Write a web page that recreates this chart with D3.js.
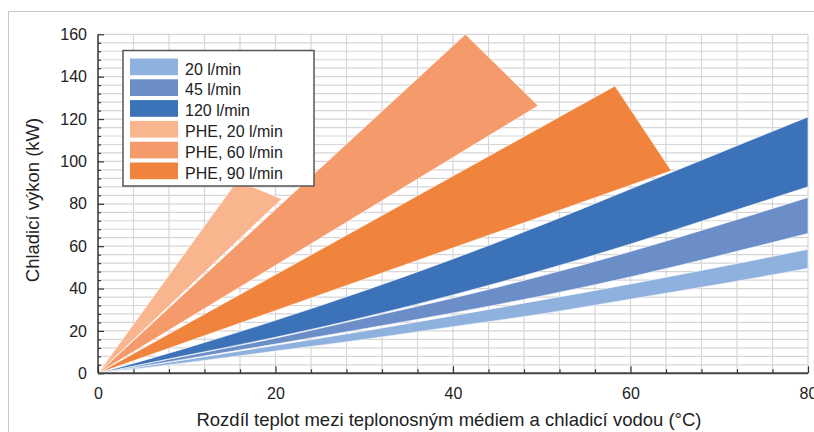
<!DOCTYPE html>
<html>
<head>
<meta charset="utf-8">
<script src="https://cdn.jsdelivr.net/npm/d3@7"></script>
<style>
  body { margin: 0; background: #fff; }
  svg text { font-family: "Liberation Sans", Arial, Helvetica, sans-serif; fill: #222; }
</style>
</head>
<body>
<svg id="chart" width="814" height="432"></svg>
<script>
// ---- Data ----
// Blue bands: cooling power ranges (kW) against temperature difference (°C)
const deltaT = [0, 10, 20, 30, 40, 50, 60, 70, 80];
const low20 = [0, 5, 10.5, 16, 22, 28, 35, 42, 49.5];
const high20 = [0, 6.5, 13.2, 20, 27.2, 34.6, 42.2, 50.2, 58.5];
const low45 = [0, 6.8, 13.8, 21, 28.5, 36.5, 45.5, 55.5, 66];
const high45 = [0, 8.3, 16.6, 26, 35.5, 46, 57.5, 70, 83];
const low120 = [0, 8.5, 17, 26.5, 37, 48.5, 61, 74.5, 88];
const high120 = [0, 12, 25, 39, 54, 70, 87, 104, 121];

// PHE wedges: corner points [deltaT, kW]
const phe20 = [[0, 0], [15.7, 91], [20.7, 82.3]];
const phe60 = [[0, 0], [41.4, 160], [49.6, 126.3]];
const phe90 = [[0, 0], [58.25, 135.6], [64.6, 95.6]];

const legendLabels = ['20 l/min', '45 l/min', '120 l/min', 'PHE, 20 l/min', 'PHE, 60 l/min', 'PHE, 90 l/min'];
const xTicks = [0, 20, 40, 60, 80];
const yTicks = [0, 20, 40, 60, 80, 100, 120, 140, 160];

const colors = {
    b20: '#8fb1dd', b45: '#6b8dc8', b120: '#3b72b8',
    p20: '#f8b58e', p60: '#f59a6b', p90: '#f1843c'
};
const legendColors = [colors.b20, colors.b45, colors.b120, colors.p20, colors.p60, colors.p90];

// ---- Layout ----
const svg = d3.select('#chart');
const margin = { top: 34.3, right: 6, bottom: 58.7, left: 98 };
const width = 814 - margin.left - margin.right;
const height = 432 - margin.top - margin.bottom;

// outer frame
svg.append('rect')
    .attr('x', 8.5).attr('y', 11.5)
    .attr('width', 900).attr('height', 500)
    .attr('fill', 'none')
    .attr('stroke', '#c8c8c8')
    .attr('stroke-width', 1);

const g = svg.append('g')
    .attr('transform', `translate(${margin.left},${margin.top})`);

// Scales
const x = d3.scaleLinear().domain([0, 80]).range([0, width]);
const y = d3.scaleLinear().domain([0, 160]).range([height, 0]);

// Grid
const grid = g.append('g').attr('class', 'grid');
grid.selectAll('.vgrid')
    .data(d3.range(4, 81, 4))
    .join('line')
    .attr('x1', d => x(d)).attr('x2', d => x(d))
    .attr('y1', 0).attr('y2', height)
    .attr('stroke', '#d6d6d6').attr('stroke-width', 1.2);
grid.selectAll('.hgrid')
    .data(d3.range(4, 161, 4))
    .join('line')
    .attr('x1', 0).attr('x2', width)
    .attr('y1', d => y(d)).attr('y2', d => y(d))
    .attr('stroke', '#d6d6d6').attr('stroke-width', 1.2);

// Blue bands
const area = d3.area()
    .x(d => x(d.t))
    .y0(d => y(d.lo))
    .y1(d => y(d.hi))
    .curve(d3.curveMonotoneX);

const blueBands = [
    { lo: low20, hi: high20, color: colors.b20 },
    { lo: low45, hi: high45, color: colors.b45 },
    { lo: low120, hi: high120, color: colors.b120 }
];
g.append('g').selectAll('path')
    .data(blueBands)
    .join('path')
    .attr('d', b => area(deltaT.map((t, i) => ({ t, lo: b.lo[i], hi: b.hi[i] }))))
    .attr('fill', b => b.color)
    .attr('stroke', '#fff').attr('stroke-width', 0.6);

// PHE wedges
const wedges = [
    { pts: phe20, color: colors.p20 },
    { pts: phe60, color: colors.p60 },
    { pts: phe90, color: colors.p90 }
];
g.append('g').selectAll('path')
    .data(wedges)
    .join('path')
    .attr('d', w => d3.line().x(p => x(p[0])).y(p => y(p[1]))(w.pts) + 'Z')
    .attr('fill', w => w.color)
    .attr('stroke', '#fff').attr('stroke-width', 0.6);

// Axes
const yAxis = g.append('g')
    .call(d3.axisLeft(y).tickValues(yTicks).tickSizeInner(-6).tickSizeOuter(0).tickPadding(11));
const yMinor = g.append('g')
    .call(d3.axisLeft(y).tickValues(d3.range(4, 161, 4).filter(v => v % 20)).tickSize(-3).tickFormat(''));
const xAxis = g.append('g')
    .attr('transform', `translate(0,${height})`)
    .call(d3.axisBottom(x).tickValues(xTicks).tickSizeInner(-7).tickSizeOuter(0).tickPadding(14));
const xMinor = g.append('g')
    .attr('transform', `translate(0,${height})`)
    .call(d3.axisBottom(x).tickValues(d3.range(4, 81, 4).filter(v => v % 20)).tickSize(-4).tickFormat(''));

[yAxis, yMinor, xAxis, xMinor].forEach(ax => {
    ax.select('.domain').remove();
    ax.selectAll('line').attr('stroke', '#333').attr('stroke-width', 1.2);
    ax.selectAll('text').attr('font-size', 16).attr('fill', '#222')
        .style('font-family', '"Liberation Sans", Arial, sans-serif');
});

g.append('line')
    .attr('x1', 0).attr('x2', 0).attr('y1', 0).attr('y2', height)
    .attr('stroke', '#333').attr('stroke-width', 1.5);
g.append('line')
    .attr('x1', 0).attr('x2', width).attr('y1', height).attr('y2', height)
    .attr('stroke', '#444').attr('stroke-width', 2);

// Axis titles
svg.append('text')
    .attr('x', 449).attr('y', 426)
    .attr('text-anchor', 'middle')
    .attr('font-size', 18.5)
    .text('Rozdíl teplot mezi teplonosným médiem a chladicí vodou (°C)');
svg.append('text')
    .attr('transform', 'translate(39,200) rotate(-90)')
    .attr('text-anchor', 'middle')
    .attr('font-size', 18.5)
    .text('Chladicí výkon (kW)');

// Legend
const legend = svg.append('g').attr('transform', 'translate(123,50.5)');
legend.append('rect')
    .attr('width', 191).attr('height', 135.5)
    .attr('fill', '#fff')
    .attr('stroke', '#555').attr('stroke-width', 1.5);
const rows = legend.selectAll('.row')
    .data(legendLabels)
    .join('g')
    .attr('transform', (d, i) => `translate(7,${8 + i * 20.8})`);
rows.append('rect')
    .attr('width', 48).attr('height', 16.7)
    .attr('fill', (d, i) => legendColors[i]);
rows.append('text')
    .attr('x', 55).attr('y', 16)
    .attr('font-size', 16)
    .text(d => d);
</script>
</body>
</html>
